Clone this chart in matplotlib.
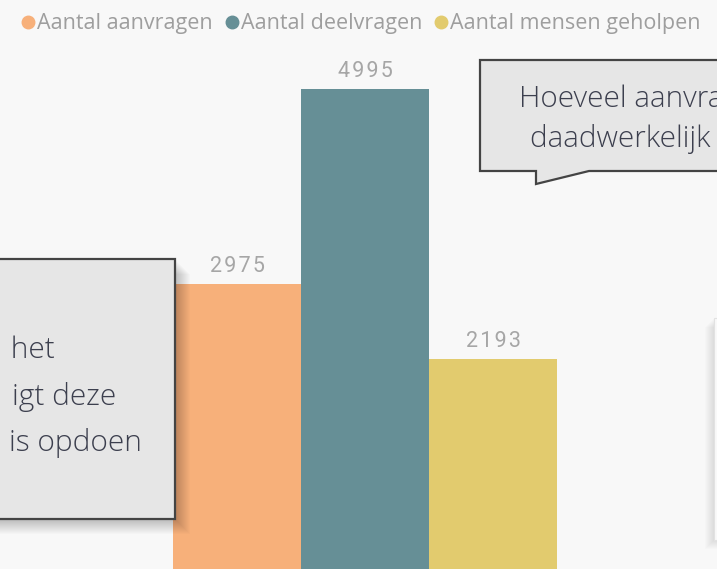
import matplotlib.pyplot as plt
import matplotlib.patches as patches
import numpy as np

# data
series = ['Aantal aanvragen', 'Aantal deelvragen', 'Aantal mensen geholpen']
values = [2975, 4995, 2193]
colors = ['#F7B07A', '#668F96', '#E2CB6E']

bg = '#F8F8F8'

fig = plt.figure(figsize=(7.17, 5.69), dpi=100)
fig.patch.set_facecolor(bg)

# bar axes fills the whole picture, limits put the bars where they sit in the crop
ax = fig.add_axes([0, 0, 1, 1])
ax.set_facecolor(bg)
x = np.arange(len(values))
ax.bar(x, values, width=1.0, color=colors, zorder=2)
for xi, v in zip(x, values):
    ax.text(xi, v + 75, '\u200a'.join(str(v)), ha='center', va='bottom', fontsize=15.5,
            color='#A6A6A6', family='Roboto')
ax.set_xlim(-1.855, 3.746)
ax.set_ylim(22, 5915)
ax.axis('off')

# overlay in pixel coordinates for legend and callouts
ov = fig.add_axes([0, 0, 1, 1], zorder=5)
ov.set_xlim(0, 717)
ov.set_ylim(569, 0)
ov.axis('off')
ov.patch.set_alpha(0)

# legend
leg_x = [28, 232, 441]
for lx, name, c in zip(leg_x, series, colors):
    ov.plot(lx, 22, 'o', color=c, markersize=9, clip_on=False)
    ov.text(lx + 9, 23, name, ha='left', va='center', fontsize=15.5,
            color='#9E9E9E', family='Open Sans')

box_fc = '#E6E6E6'
box_ec = '#444444'
txt_c = '#3C3F4E'

def shadow(x0, y0, w, h):
    for i in range(1, 16):
        ov.add_patch(patches.Rectangle((x0 + i, y0 + i), w, h, facecolor='black',
                                       alpha=0.016, edgecolor='none', zorder=1))

# left callout
shadow(-20, 259, 195, 260)
ov.add_patch(patches.Rectangle((-20, 259), 195, 260, facecolor=box_fc,
                               edgecolor=box_ec, linewidth=1.6, zorder=3))
for ty, line, tx in zip([350, 397, 443], [' het', 'igt deze', 'is opdoen'], [55, 116, 142]):
    ov.text(tx, ty, line, ha='right', va='center', fontsize=21.5, color=txt_c,
            family='Open Sans', fontweight='light', zorder=4)

# top right callout with tail
tail = [(480, 60), (740, 60), (740, 171), (589, 171), (536, 184), (536, 171), (480, 171)]
ov.add_patch(patches.Polygon(tail, closed=True, facecolor=box_fc, edgecolor=box_ec,
                             linewidth=1.6, zorder=3))
ov.text(519, 99, 'Hoeveel aanvragen', ha='left', va='center', fontsize=21.3,
        color=txt_c, family='Open Sans', fontweight='light', zorder=4)
ov.text(530, 139, 'daadwerkelijk t', ha='left', va='center', fontsize=21.3,
        color=txt_c, family='Open Sans', fontweight='light', zorder=4)

# right edge callout, barely visible
for i in range(1, 10):
    ov.add_patch(patches.Rectangle((714 - i, 318 + i), 40, 222, facecolor='black',
                                   alpha=0.01, edgecolor='none', zorder=1))
ov.add_patch(patches.Rectangle((714, 318), 40, 222, facecolor='#F9F9F9',
                               edgecolor='#E2E2E2', linewidth=0.8, zorder=3))

fig.savefig('out.png', dpi=100, facecolor=bg)
